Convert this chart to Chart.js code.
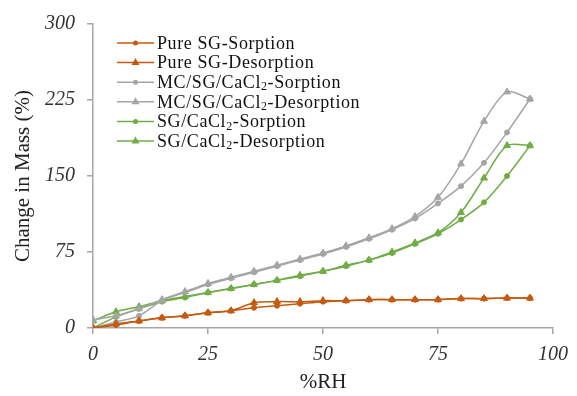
<!DOCTYPE html>
<html>
<head>
<meta charset="utf-8">
<script src="https://cdn.jsdelivr.net/npm/chart.js@4.4.1/dist/chart.umd.min.js"></script>
<style>
  html, body { margin: 0; padding: 0; background: #fff; }
  #wrap { width: 577px; height: 396px; }
</style>
</head>
<body>
<div id="wrap"><canvas id="c" width="577" height="396"></canvas></div>
<script>
const rh = [0, 5, 10, 15, 20, 25, 30, 35, 40, 45, 50, 55, 60, 65, 70, 75, 80, 85, 90, 95];
const pureSGSorption   = [0, 3, 7, 10, 12, 15, 17, 20, 22, 24, 26, 27, 28, 28, 28, 28, 29, 29, 29.5, 29.5];
const pureSGDesorption = [0, 4, 7, 10, 12, 15, 17, 25, 26, 26, 27, 27, 28, 28, 28, 28, 29, 29, 29.5, 29.5];
const mcSorption       = [0, 6, 12, 27, 35, 43, 49, 55, 61, 67, 73, 80, 88, 97, 108, 123, 140, 163, 193, 226];
const mcDesorption     = [8, 12, 19, 28, 36, 44, 50, 56, 62, 68, 74, 81, 89, 98, 110, 129, 162, 204, 233, 226];
const sgCaSorption     = [0, 11, 19, 26, 30, 35, 39, 43, 47, 51, 56, 61, 67, 74, 83, 93, 107, 124, 150, 180];
const sgCaDesorption   = [7, 16, 21, 27, 31, 35, 39, 43, 47, 52, 56, 62, 67, 75, 84, 94, 114, 148, 180, 180];

const seriesLabels = ['Pure SG-Sorption', 'Pure SG-Desorption', 'MC/SG/CaCl\u2082-Sorption', 'MC/SG/CaCl\u2082-Desorption', 'SG/CaCl\u2082-Sorption', 'SG/CaCl\u2082-Desorption'];
const seriesValues = [pureSGSorption, pureSGDesorption, mcSorption, mcDesorption, sgCaSorption, sgCaDesorption];
const seriesColors = ['#C55A11', '#C55A11', '#A5A5A5', '#A5A5A5', '#70AD47', '#70AD47'];
const seriesMarkers = ['circle', 'triangle', 'circle', 'triangle', 'circle', 'triangle'];

const yTicks = [0, 75, 150, 225, 300];
const xTicks = [0, 25, 50, 75, 100];

const datasets = seriesLabels.map((label, i) => ({
  label,
  data: rh.map((x, j) => ({ x, y: seriesValues[i][j] })),
  borderColor: seriesColors[i],
  backgroundColor: seriesColors[i],
  pointStyle: seriesMarkers[i],
  pointRadius: seriesMarkers[i] === 'triangle' ? 4 : 2.5,
  pointBorderWidth: 1,
  borderWidth: 1.5,
  tension: 0.3,
  fill: false
}));

const legendPlugin = {
  id: 'customLegend',
  afterDraw(chart) {
    const ctx = chart.ctx;
    ctx.save();
    chart.data.datasets.forEach((ds, i) => {
      const y = 43 + i * 19.6;
      ctx.strokeStyle = ds.borderColor;
      ctx.lineWidth = 1.5;
      ctx.beginPath();
      ctx.moveTo(117, y);
      ctx.lineTo(154, y);
      ctx.stroke();
      ctx.fillStyle = ds.borderColor;
      ctx.beginPath();
      if (ds.pointStyle === 'triangle') {
        ctx.moveTo(135.5, y - 4.5); ctx.lineTo(139.5, y + 2.5); ctx.lineTo(131.5, y + 2.5); ctx.closePath();
      } else {
        ctx.arc(135.5, y, 2.5, 0, Math.PI * 2);
      }
      ctx.fill();
      ctx.fillStyle = '#111';
      ctx.textBaseline = 'middle';
      ctx.textAlign = 'left';
      ctx.letterSpacing = '0.6px';
      const parts = ds.label.split('\u2082');
      let x = 157;
      parts.forEach((p, k) => {
        ctx.font = '18px "Liberation Serif", "Times New Roman", serif';
        ctx.fillText(p, x, y + 1);
        x += ctx.measureText(p).width;
        if (k < parts.length - 1) {
          ctx.font = '12px "Liberation Serif", "Times New Roman", serif';
          ctx.fillText('2', x, y + 5);
          x += ctx.measureText('2').width;
        }
      });
    });
    ctx.restore();
  }
};

new Chart(document.getElementById('c'), {
  type: 'line',
  data: { datasets },
  options: {
    responsive: false,
    animation: false,
    layout: { padding: { top: 24, right: 19, bottom: 0, left: 0 } },
    plugins: { legend: { display: false }, tooltip: { enabled: false } },
    scales: {
      x: {
        type: 'linear',
        min: 0, max: 100,
        afterFit: s => { s.height = 68; },
        afterBuildTicks: s => { s.ticks = xTicks.map(v => ({ value: v })); },
        ticks: {
          padding: 9,
          color: '#333',
          font: { family: '"Liberation Serif", serif', size: 20, style: 'italic' }
        },
        grid: { drawOnChartArea: false, drawTicks: true, tickLength: 6, color: '#A6A6A6', lineWidth: 1.5 },
        border: { display: true, color: '#A6A6A6', width: 1.5 },
        title: {
          display: true, text: '%RH', color: '#222',
          font: { family: '"Liberation Serif", serif', size: 21 },
          padding: { top: 0, bottom: 1 }
        }
      },
      y: {
        min: 0, max: 300,
        afterFit: s => { s.width = 93; },
        afterBuildTicks: s => { s.ticks = yTicks.map(v => ({ value: v })); },
        ticks: {
          padding: 12,
          color: '#333',
          font: { family: '"Liberation Serif", serif', size: 20, style: 'italic' }
        },
        grid: { drawOnChartArea: false, drawTicks: true, tickLength: 6, color: '#A6A6A6', lineWidth: 1.5 },
        border: { display: true, color: '#A6A6A6', width: 1.5 },
        title: {
          display: true, text: 'Change in Mass (%)', color: '#222',
          font: { family: '"Liberation Serif", serif', size: 21 },
          padding: { top: 11, bottom: 0 }
        }
      }
    }
  },
  plugins: [legendPlugin]
});
</script>
</body>
</html>
